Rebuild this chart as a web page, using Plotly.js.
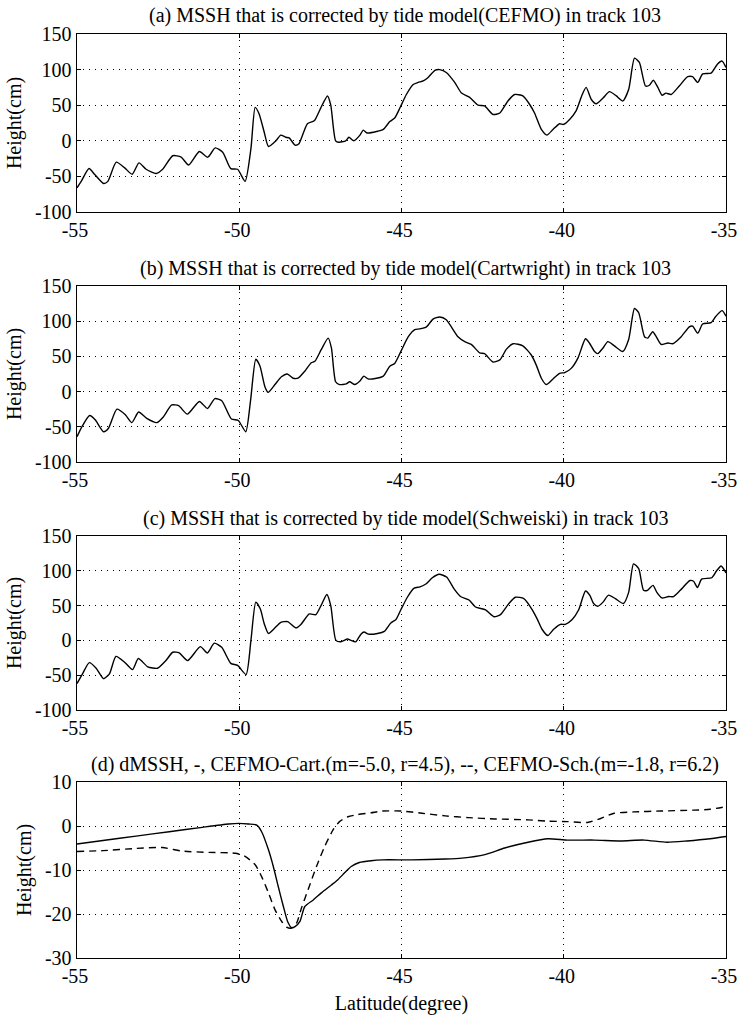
<!DOCTYPE html>
<html>
<head>
<meta charset="utf-8">
<script src="https://cdn.plot.ly/plotly-3.0.1.min.js"></script>
<style>html,body{margin:0;padding:0;background:#fff;}#chart{width:739px;height:1016px;}</style>
</head>
<body>
<div id="chart"></div>
<script>
// ---- Data ----
const latA = [-55.00,-54.87,-54.63,-54.46,-54.18,-54.05,-53.79,-53.53,-53.30,-53.09,-52.87,-52.56,-52.36,-52.05,-51.79,-51.56,-51.23,-50.97,-50.74,-50.51,-50.26,-50.05,-49.82,-49.64,-49.51,-49.39,-49.23,-49.10,-48.87,-48.72,-48.57,-48.46,-48.28,-48.16,-47.90,-47.69,-47.49,-47.28,-47.18,-47.03,-46.93,-46.72,-46.62,-46.47,-46.28,-46.18,-46.06,-45.77,-45.56,-45.36,-45.21,-45.05,-44.85,-44.64,-44.49,-44.33,-44.18,-43.97,-43.82,-43.62,-43.36,-43.15,-42.90,-42.64,-42.44,-42.18,-41.97,-41.72,-41.51,-41.26,-41.05,-40.90,-40.69,-40.52,-40.33,-40.13,-40.01,-39.82,-39.62,-39.43,-39.31,-39.15,-39.00,-38.79,-38.59,-38.38,-38.18,-38.00,-37.82,-37.67,-37.48,-37.36,-37.24,-37.10,-36.97,-36.85,-36.69,-36.44,-36.18,-36.03,-35.87,-35.72,-35.46,-35.26,-35.12,-35.00];
const msshCEFMO = [-66,-57,-39,-47,-60,-57,-30,-38,-47,-31,-40,-46,-40,-21,-23,-34,-15,-23,-10,-16,-39,-40,-57,-11,47,38,12,-8,0,8,5,4,-6,-4,24,28,46,63,50,0,-2,0,5,0,8,15,11,13,16,27,32,46,65,79,82,84,89,99,100,96,82,67,61,50,49,37,39,56,65,63,51,39,16,8,16,24,23,30,42,65,75,58,52,60,69,63,56,72,116,110,77,78,85,75,64,67,65,77,90,90,82,94,95,108,112,103];

const latB = [-55.00,-54.85,-54.61,-54.44,-54.18,-54.03,-53.77,-53.51,-53.31,-53.10,-52.85,-52.54,-52.34,-52.08,-51.87,-51.60,-51.23,-50.98,-50.75,-50.54,-50.24,-50.03,-49.80,-49.65,-49.49,-49.36,-49.21,-49.11,-48.90,-48.70,-48.52,-48.34,-48.19,-47.98,-47.78,-47.67,-47.47,-47.26,-47.16,-47.03,-46.91,-46.70,-46.60,-46.44,-46.28,-46.16,-46.03,-45.77,-45.56,-45.36,-45.21,-45.00,-44.79,-44.59,-44.44,-44.23,-44.03,-43.82,-43.62,-43.26,-43.05,-42.85,-42.59,-42.44,-42.18,-41.97,-41.77,-41.56,-41.26,-41.00,-40.85,-40.69,-40.54,-40.33,-40.13,-39.97,-39.77,-39.56,-39.33,-39.21,-39.05,-38.95,-38.79,-38.64,-38.44,-38.18,-38.00,-37.82,-37.69,-37.51,-37.41,-37.26,-37.15,-37.00,-36.79,-36.64,-36.38,-36.13,-36.03,-35.87,-35.72,-35.46,-35.31,-35.12,-35.00];
const msshCart = [-64,-50,-34,-40,-57,-52,-25,-33,-44,-29,-38,-44,-36,-19,-20,-32,-14,-24,-10,-13,-39,-41,-57,-12,46,36,7,-1,10,21,25,19,19,29,41,43,60,76,62,14,10,11,14,10,15,22,18,19,22,36,40,59,78,88,89,92,103,106,102,78,71,67,55,54,42,45,60,68,65,52,38,19,10,18,26,27,33,48,75,69,57,54,62,71,65,57,74,118,112,78,76,85,78,67,69,68,78,92,93,83,96,98,107,115,107];

const latC = [-55.00,-54.83,-54.62,-54.41,-54.18,-54.00,-53.80,-53.54,-53.29,-53.11,-52.82,-52.52,-52.26,-52.05,-51.85,-51.59,-51.20,-50.98,-50.77,-50.54,-50.26,-50.05,-49.79,-49.64,-49.49,-49.35,-49.23,-49.10,-48.92,-48.72,-48.51,-48.25,-48.10,-47.84,-47.64,-47.48,-47.30,-47.18,-47.02,-46.87,-46.66,-46.56,-46.41,-46.25,-46.15,-46.02,-45.74,-45.53,-45.33,-45.17,-45.02,-44.82,-44.61,-44.43,-44.25,-44.05,-43.84,-43.61,-43.38,-43.18,-42.92,-42.72,-42.41,-42.15,-41.95,-41.69,-41.49,-41.23,-40.97,-40.82,-40.67,-40.49,-40.31,-40.10,-39.95,-39.74,-39.54,-39.33,-39.20,-39.08,-38.95,-38.79,-38.62,-38.41,-38.16,-38.00,-37.85,-37.69,-37.54,-37.42,-37.25,-37.13,-36.98,-36.77,-36.62,-36.41,-36.11,-36.00,-35.88,-35.75,-35.44,-35.29,-35.15,-35.00];
const msshSchw = [-62,-48,-32,-40,-55,-48,-23,-31,-42,-26,-38,-40,-29,-17,-18,-29,-9,-18,-4,-10,-33,-36,-49,0,55,45,24,10,17,26,27,18,23,38,37,50,66,50,0,-2,2,0,-2,9,12,9,10,13,25,30,44,62,75,77,81,90,95,91,74,63,58,48,44,34,37,53,62,60,44,31,16,7,16,23,23,30,44,71,65,53,49,55,65,60,53,69,110,103,72,72,79,69,61,63,63,72,86,85,76,88,90,100,107,97];

const latD1 = [-55.00,-54.20,-53.18,-52.16,-51.14,-50.33,-50.02,-49.71,-49.46,-49.31,-49.10,-48.95,-48.80,-48.64,-48.51,-48.39,-48.27,-48.13,-47.98,-47.72,-47.47,-47.16,-46.96,-46.76,-46.55,-46.30,-45.94,-45.59,-44.67,-43.65,-43.14,-42.43,-41.82,-41.10,-40.49,-39.88,-39.06,-38.24,-37.53,-36.82,-36.20,-35.49,-35.00];
const dCEFMOCart = [-4.1,-3.3,-2.3,-1.3,-0.3,0.45,0.6,0.45,0.2,-1.3,-5.4,-9.2,-13.7,-18.3,-21.7,-23.1,-22.8,-21.7,-18.3,-16.8,-15.2,-13.4,-12.2,-10.7,-9.2,-8.3,-7.9,-7.7,-7.7,-7.5,-7.3,-6.5,-5.0,-3.7,-2.9,-3.2,-3.2,-3.4,-3.2,-3.7,-3.4,-2.9,-2.4];

const latD2 = [-55.00,-54.20,-53.18,-52.37,-51.76,-50.94,-50.12,-49.82,-49.51,-49.31,-49.10,-48.90,-48.69,-48.54,-48.39,-48.23,-48.08,-47.88,-47.62,-47.37,-47.11,-46.91,-46.65,-46.35,-45.94,-45.59,-45.00,-44.37,-43.65,-42.94,-42.12,-41.10,-40.49,-39.88,-39.27,-38.86,-38.45,-37.84,-37.02,-36.00,-35.49,-35.00];
const dCEFMOSch = [-5.8,-5.6,-5.1,-4.9,-5.7,-6.0,-6.2,-6.9,-8.8,-11.5,-15.2,-19.0,-21.7,-23.0,-23.2,-22.0,-18.6,-14.5,-9.2,-4.7,-0.9,1.0,2.1,2.6,3.0,3.4,3.4,2.9,2.3,1.9,1.6,1.4,1.1,1.0,0.8,1.7,2.9,3.2,3.4,3.6,3.8,4.4];

const xTickVals = [-55,-50,-45,-40,-35];
const xTickText = ['-55','-50','-45','-40','-35'];
const yTickValsH = [-100,-50,0,50,100,150];
const yTickTextH = ['-100','-50','0','50','100','150'];
const yTickValsD = [-30,-20,-10,0,10];
const yTickTextD = ['-30','-20','-10','0','10'];

const titles = [
  '(a) MSSH that is corrected by tide model(CEFMO) in track 103',
  '(b) MSSH that is corrected by tide model(Cartwright) in track 103',
  '(c) MSSH that is corrected by tide model(Schweiski) in track 103',
  '(d) dMSSH, -, CEFMO-Cart.(m=-5.0, r=4.5), --, CEFMO-Sch.(m=-1.8, r=6.2)'
];
const yTitle = 'Height(cm)';
const xTitle = 'Latitude(degree)';

// ---- Layout ----
const FONT = 'Liberation Serif, Times New Roman, serif';
const W = 739, H = 1016;
const xl = 77 / W, xr = 726 / W;
const panels = [[34,212],[286,462],[536,710],[782,958]]; // top,bottom px
const dom = panels.map(p => [1 - p[1]/H, 1 - p[0]/H]);

function lineTrace(x, y, i, dash) {
  return {
    x: x, y: y, type: 'scatter', mode: 'lines',
    xaxis: i === 0 ? 'x' : 'x' + (i+1),
    yaxis: i === 0 ? 'y' : 'y' + (i+1),
    line: {color: '#000', width: 1.4, shape: 'spline', smoothing: 0.6, dash: dash || 'solid'},
    hoverinfo: 'skip', showlegend: false, cliponaxis: true
  };
}

const data = [
  lineTrace(latA, msshCEFMO, 0),
  lineTrace(latB, msshCart, 1),
  lineTrace(latC, msshSchw, 2),
  lineTrace(latD1, dCEFMOCart, 3),
  lineTrace(latD2, dCEFMOSch, 3, '7px,5px')
];

const layout = {
  width: W, height: H,
  margin: {l: 0, r: 0, t: 0, b: 0},
  paper_bgcolor: '#fff', plot_bgcolor: '#fff',
  font: {family: FONT, size: 20, color: '#000'},
  showlegend: false,
  annotations: []
};

for (let i = 0; i < 4; i++) {
  const xa = i === 0 ? 'xaxis' : 'xaxis' + (i+1);
  const ya = i === 0 ? 'yaxis' : 'yaxis' + (i+1);
  const isD = i === 3;
  layout[xa] = {
    domain: [xl, xr], anchor: i === 0 ? 'y' : 'y' + (i+1),
    range: [-55, -35], tickvals: xTickVals, ticktext: xTickText,
    showline: true, linecolor: '#000', linewidth: 1.4, mirror: 'ticks',
    ticks: 'inside', ticklen: 4, tickcolor: '#000',
    showgrid: true, gridcolor: '#000', gridwidth: 1, griddash: '1px,5px',
    zeroline: false, tickfont: {family: FONT, size: 20},
    ticklabelshift: -2
  };
  layout[ya] = {
    domain: dom[i], anchor: i === 0 ? 'x' : 'x' + (i+1),
    range: isD ? [-30, 10] : [-100, 150],
    tickvals: isD ? yTickValsD : yTickValsH,
    ticktext: isD ? yTickTextD : yTickTextH,
    showline: true, linecolor: '#000', linewidth: 1.4, mirror: 'ticks',
    ticks: 'inside', ticklen: 4, tickcolor: '#000',
    showgrid: true, gridcolor: '#000', gridwidth: 1, griddash: '1px,5px',
    zeroline: false, tickfont: {family: FONT, size: 20},
    ticklabeloverflow: 'allow',
    title: {text: yTitle, font: {family: FONT, size: 20}, standoff: 8}
  };
  layout.annotations.push({
    text: titles[i], xref: 'paper', yref: 'paper',
    x: 405 / W, y: 1 - (panels[i][0] - 18) / H,
    xanchor: 'center', yanchor: 'middle', showarrow: false,
    font: {family: FONT, size: 20, color: '#000'}
  });
}
layout.xaxis4.title = {text: xTitle, font: {family: FONT, size: 20}, standoff: 9};

Plotly.newPlot('chart', data, layout, {staticPlot: true, displayModeBar: false});
</script>
</body>
</html>
